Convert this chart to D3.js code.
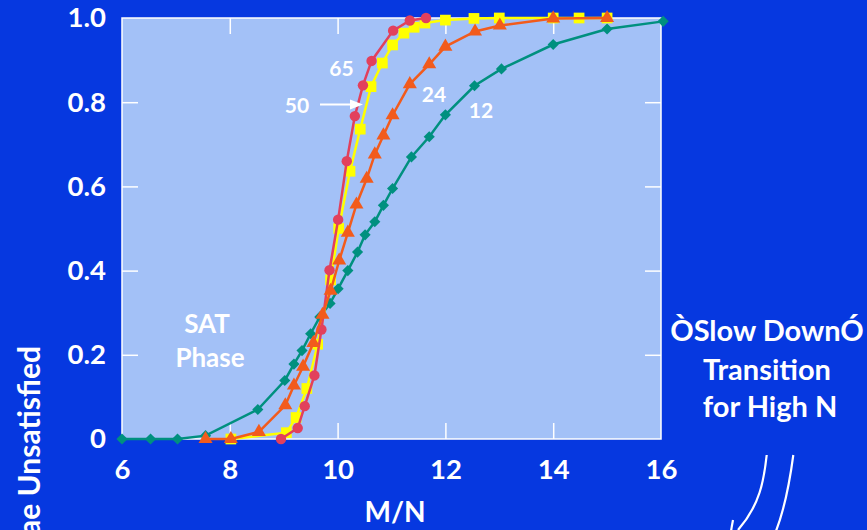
<!DOCTYPE html>
<html><head><meta charset="utf-8">
<script src="https://cdn.jsdelivr.net/npm/d3@7"></script>
<style>
html,body{margin:0;padding:0;background:#0638E0;}
svg{display:block;}
text{font-family:Lato,"Open Sans",sans-serif;font-weight:bold;fill:#fff;}
</style></head><body>
<svg id="c" width="867" height="530"></svg>
<script>
const xTicks = [6, 8, 10, 12, 14, 16];
const yTicks = [0, 0.2, 0.4, 0.6, 0.8, 1.0];
const yTickLabels = ["0", "0.2", "0.4", "0.6", "0.8", "1.0"];

const x12 = [6, 6.53, 7.03, 7.55, 8.52, 9.02, 9.19, 9.34, 9.5, 9.67, 9.86, 10.01, 10.19, 10.37, 10.51, 10.69, 10.85, 11.02, 11.37, 11.70, 12.0, 12.54, 13.04, 14.0, 15.0, 16.04];
const y12 = [0, 0, 0, 0.008, 0.07, 0.139, 0.178, 0.21, 0.25, 0.29, 0.322, 0.357, 0.40, 0.444, 0.485, 0.516, 0.555, 0.595, 0.67, 0.718, 0.77, 0.839, 0.879, 0.937, 0.974, 0.992];

const x24 = [7.55, 8.02, 8.54, 9.03, 9.19, 9.36, 9.55, 9.72, 9.87, 10.03, 10.19, 10.35, 10.54, 10.69, 10.85, 11.02, 11.34, 11.70, 12.0, 12.55, 13.01, 14.0, 15.0];
const y24 = [0, 0, 0.017, 0.08, 0.127, 0.172, 0.228, 0.295, 0.352, 0.424, 0.49, 0.557, 0.618, 0.676, 0.721, 0.769, 0.843, 0.89, 0.932, 0.968, 0.982, 0.999, 1.0];

const x50 = [8.02, 9.05, 9.23, 9.43, 9.63, 9.87, 10.02, 10.23, 10.42, 10.62, 10.83, 11.02, 11.23, 11.42, 11.62, 12.0, 12.53, 13.0, 14.0, 14.48, 15.0];
const y50 = [0, 0.015, 0.051, 0.12, 0.225, 0.378, 0.50, 0.636, 0.736, 0.837, 0.893, 0.936, 0.964, 0.978, 0.988, 0.995, 0.999, 1, 1, 1, 1];

const x65 = [8.95, 9.26, 9.39, 9.57, 9.70, 9.85, 10.01, 10.17, 10.32, 10.47, 10.63, 11.03, 11.34, 11.64];
const y65 = [0, 0.026, 0.078, 0.151, 0.26, 0.401, 0.521, 0.66, 0.767, 0.84, 0.898, 0.97, 0.994, 1.0];

const seriesNames = ["12", "50", "65", "24"];

const svg = d3.select("#c");
const L = 122, R = 661, T = 18, B = 439;
const x = d3.scaleLinear().domain([6, 16]).range([L, R]);
const y = d3.scaleLinear().domain([0, 1]).range([B, T]);

svg.append("rect").attr("width", 867).attr("height", 530).attr("fill", "#0638E0");
svg.append("rect").attr("x", L).attr("y", T).attr("width", R - L).attr("height", B - T)
  .attr("fill", "#A3C1F7");

const inner = [0.2, 0.4, 0.6, 0.8];
const innerX = [8, 10, 12, 14];
function styleAxis(g) {
  g.select(".domain").remove();
  g.selectAll(".tick line").attr("stroke", "#fff").attr("stroke-width", 1.5);
  g.selectAll("text").attr("fill", "#fff").style("font-size", "27.5px").style("font-family", "Lato, 'Open Sans', sans-serif").style("font-weight", "bold");
}
svg.append("g").attr("transform", `translate(${L},0)`)
  .call(d3.axisLeft(y).tickValues(inner).tickSize(-16).tickFormat(""))
  .call(styleAxis);
svg.append("g").attr("transform", `translate(${R},0)`)
  .call(d3.axisRight(y).tickValues(inner).tickSize(-16).tickFormat(""))
  .call(styleAxis);
svg.append("g").attr("transform", `translate(0,${T})`)
  .call(d3.axisTop(x).tickValues(innerX).tickSize(-16).tickFormat(""))
  .call(styleAxis);
svg.append("g").attr("transform", `translate(0,${B})`)
  .call(d3.axisBottom(x).tickValues(innerX).tickSize(-16).tickFormat(""))
  .call(styleAxis);

svg.append("g").attr("transform", `translate(${L},0)`)
  .call(d3.axisLeft(y).tickValues(yTicks).tickSize(0).tickPadding(16)
    .tickFormat((d, i) => yTickLabels[i]))
  .call(styleAxis);
svg.append("g").attr("transform", `translate(0,${B})`)
  .call(d3.axisBottom(x).tickValues(xTicks).tickSize(0).tickPadding(20))
  .call(styleAxis);

svg.append("rect").attr("x", L).attr("y", T).attr("width", R - L).attr("height", B - T)
  .attr("fill", "none").attr("stroke", "#fff").attr("stroke-width", 1.5);

const line = d3.line().x(d => x(d[0])).y(d => y(d[1]));
const series = [
  {name: "12", xs: x12, ys: y12, color: "#00907F", sym: "diamond"},
  {name: "50", xs: x50, ys: y50, color: "#FFFF00", sym: "square"},
  {name: "65", xs: x65, ys: y65, color: "#E2405C", sym: "circle"},
  {name: "24", xs: x24, ys: y24, color: "#F25B1C", sym: "triangle"}
];
series.forEach(s => {
  const pts = s.xs.map((v, i) => [v, s.ys[i]]);
  const g = svg.append("g");
  g.append("path").attr("d", line(pts)).attr("fill", "none")
    .attr("stroke", s.color).attr("stroke-width", 2.5);
  let symType, size, rot = 0;
  if (s.sym === "diamond") { symType = d3.symbolSquare; size = 62; rot = 45; }
  else if (s.sym === "square") { symType = d3.symbolSquare; size = 115; }
  else if (s.sym === "circle") { symType = d3.symbolCircle; size = 85; }
  else { symType = d3.symbolTriangle; size = 85; }
  g.selectAll("path.m").data(pts).join("path").attr("class", "m")
    .attr("d", d3.symbol().type(symType).size(size))
    .attr("transform", d => `translate(${x(d[0])},${y(d[1])}) rotate(${rot})`)
    .attr("fill", s.color);
});

function txt(t, px, py, fs, anchor) {
  return svg.append("text").attr("x", px).attr("y", py).attr("text-anchor", anchor || "middle")
    .style("font-size", fs + "px").text(t);
}
txt("65", 341.5, 76, 21);
txt("50", 297, 113, 21);
txt("24", 434, 102, 21);
txt("12", 481, 118, 21);
svg.append("line").attr("x1", 320).attr("y1", 104.5).attr("x2", 352).attr("y2", 104.5)
  .attr("stroke", "#fff").attr("stroke-width", 2);
svg.append("path").attr("d", "M363,104.5 L350,99.5 L350,109.5 Z").attr("fill", "#fff");

txt("SAT", 207, 333, 26);
txt("Phase", 210, 367, 26);

txt("ÒSlow DownÓ", 767, 341, 29);
txt("Transition", 767, 380, 29);
txt("for High N", 770, 417, 29);

txt("M/N", 395, 522, 28);
svg.append("text").attr("transform", "translate(40,346) rotate(-90)")
  .attr("text-anchor", "end").style("font-size", "30px").text("Fraction of Formulae Unsatisfied");

svg.append("path").attr("d", "M766.7,455 C764,480 760,505 738,530")
  .attr("fill", "none").attr("stroke", "#fff").attr("stroke-width", 2.2);
svg.append("path").attr("d", "M733,520 L731,531")
  .attr("fill", "none").attr("stroke", "#fff").attr("stroke-width", 2.2);
svg.append("path").attr("d", "M793.3,455 C790,480 786,505 776,531")
  .attr("fill", "none").attr("stroke", "#fff").attr("stroke-width", 2.2);
</script>
</body></html>
